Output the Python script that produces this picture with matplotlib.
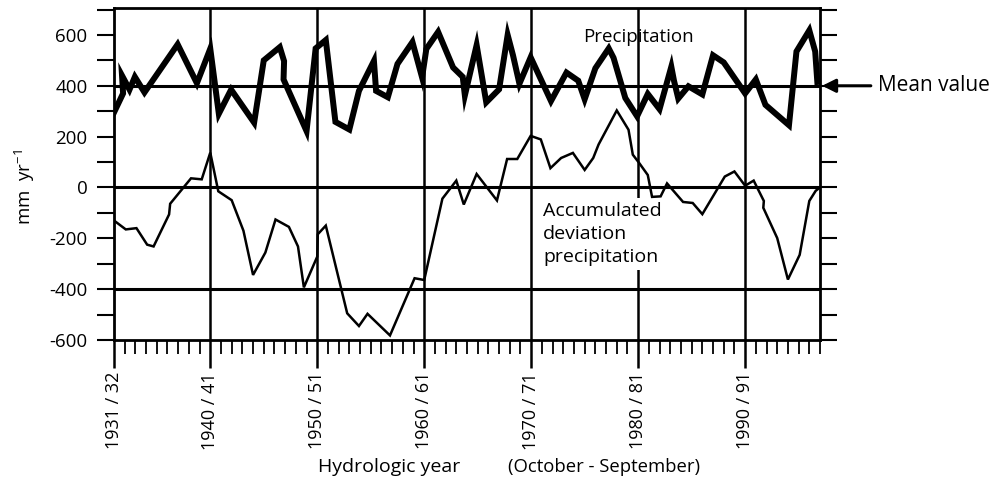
import matplotlib
matplotlib.use("Agg")
import matplotlib.pyplot as plt
from matplotlib.ticker import FixedLocator, MultipleLocator

plt.rcParams['font.family'] = ['Open Sans', 'DejaVu Sans']
plt.rcParams['axes.unicode_minus'] = False
plt.rcParams['mathtext.fontset'] = 'custom'
plt.rcParams['mathtext.rm'] = 'Open Sans'
plt.rcParams['mathtext.default'] = 'regular'

# ---- data ----
precip_year = [1931.0, 1931.85, 1931.75, 1932.45, 1932.95, 1933.85, 1936.95, 1938.75,
               1940.0, 1940.8, 1941.95, 1944.1, 1945.0, 1946.5, 1946.9, 1946.85,
               1949.0, 1949.85, 1950.8, 1951.7, 1953.0, 1953.9, 1955.3, 1955.5,
               1956.6, 1957.5, 1958.9, 1959.8, 1960.2, 1961.3, 1962.7, 1963.6,
               1963.8, 1964.9, 1965.8, 1967.0, 1967.8, 1968.3, 1968.9, 1969.95,
               1971.85, 1973.3, 1974.4, 1975.0, 1976.0, 1977.25, 1977.7, 1978.8,
               1979.9, 1980.9, 1982.0, 1983.1, 1983.35, 1983.75, 1984.7, 1986.0,
               1987.0, 1988.0, 1990.0, 1991.0, 1991.9, 1994.1, 1994.8, 1996.0,
               1996.55, 1996.75]
precip_mm = [295, 370, 440, 385, 435, 374, 563, 410,
             546, 290, 385, 255, 500, 552, 497, 425,
             222, 547, 580, 258, 228, 380, 498, 380,
             355, 486, 572, 433, 545, 612, 472, 435,
             362, 560, 335, 386, 600, 520, 408, 512,
             340, 452, 420, 347, 469, 547, 510, 352,
             280, 368, 308, 475, 420, 350, 398, 366,
             520, 492, 370, 425, 325, 245, 535, 618,
             535, 415]

accdev_year = [1931.0, 1932.1, 1933.1, 1934.1, 1934.7, 1936.15, 1936.25, 1938.2,
               1939.2, 1940.0, 1940.75, 1942.0, 1943.1, 1944.0, 1945.15, 1946.1,
               1947.35, 1948.2, 1948.75, 1950.0, 1950.05, 1950.8, 1952.8, 1953.9,
               1954.7, 1956.8, 1959.1, 1960.0, 1961.7, 1963.0, 1963.7, 1964.9,
               1966.8, 1967.75, 1968.7, 1969.95, 1970.9, 1971.8, 1972.8, 1973.9,
               1975.0, 1975.8, 1976.3, 1978.0, 1979.1, 1979.5, 1980.1, 1980.9,
               1981.3, 1982.1, 1982.7, 1984.2, 1985.1, 1986.0, 1988.1, 1989.0,
               1990.0, 1990.8, 1991.75, 1991.7, 1993.0, 1994.0, 1995.1, 1996.0,
               1996.6, 1997.0]
accdev_mm = [-130, -165, -160, -225, -232, -106, -64, 36,
             32, 137, -15, -50, -170, -344, -256, -126,
             -155, -232, -393, -272, -184, -150, -495, -545,
             -497, -582, -357, -364, -44, 27, -67, 53,
             -51, 112, 112, 203, 189, 76, 116, 136,
             69, 116, 169, 303, 227, 129, 96, 49,
             -37, -35, 16, -57, -61, -105, 43, 63,
             7, 27, -53, -80, -199, -362, -265, -53,
             -13, 0]

decade_ticks = [1931, 1940, 1950, 1960, 1970, 1980, 1990]
decade_labels = ["1931 / 32", "1940 / 41", "1950 / 51", "1960 / 61",
                 "1970 / 71", "1980 / 81", "1990 / 91"]
ytick_values = [-600, -400, -200, 0, 200, 400, 600]
ytick_labels = ["-600", "-400", "-200", "0", "200", "400", "600"]
grid_values = [-400, 0, 400]
mean_value = 400

# ---- figure ----
W, H = 1008, 493
fig = plt.figure(figsize=(W / 100, H / 100), dpi=100)
ax = fig.add_axes([114 / W, 1 - 340 / H, (820 - 114) / W, (340 - 8) / H])
ax.set_xlim(1931, 1997)
ax.set_ylim(-600, 706)

for v in grid_values:
    ax.axhline(v, color='black', lw=2.2, zorder=1)
for d in decade_ticks[1:]:
    ax.axvline(d, color='black', lw=1.8, zorder=1)

ax.plot(accdev_year, accdev_mm, color='black', lw=1.8, zorder=3,
        solid_joinstyle='miter')
ax.plot(precip_year, precip_mm, color='black', lw=4.3, zorder=4,
        solid_joinstyle='miter')

for s in ax.spines.values():
    s.set_linewidth(2)

ax.xaxis.set_major_locator(FixedLocator(decade_ticks))
ax.set_xticklabels(decade_labels, rotation=90, fontsize=13)
ax.xaxis.set_minor_locator(MultipleLocator(1))
ax.tick_params(axis='x', which='major', direction='out', length=20, width=1.8, pad=3)
ax.tick_params(axis='x', which='minor', direction='out', length=10, width=1.3)

ax.yaxis.set_major_locator(FixedLocator(ytick_values))
ax.set_yticklabels(ytick_labels, fontsize=13.5)
ax.yaxis.set_minor_locator(MultipleLocator(100))
ax.tick_params(axis='y', which='both', left=True, right=True, direction='out',
               length=12, width=1.5, pad=7)

ax.text(1980, 590, "Precipitation", ha='center', va='center', fontsize=13.5, zorder=5)
ax.text(1971.1, -58, "Accumulated\ndeviation\nprecipitation", ha='left', va='top',
        fontsize=14, linespacing=1.36, zorder=2,
        bbox=dict(facecolor='white', edgecolor='none', pad=3))

ytr = ax.get_yaxis_transform()
ax.annotate('', xy=(1.003, mean_value), xycoords=ytr,
            xytext=(1.072, mean_value), textcoords=ytr,
            arrowprops=dict(arrowstyle='-|>', lw=2.2, color='black',
                            mutation_scale=20, shrinkA=0, shrinkB=0),
            annotation_clip=False)
ax.text(1.082, mean_value, "Mean value", transform=ytr, ha='left', va='center',
        fontsize=15, clip_on=False)

fig.text(25 / W, 1 - 187 / H, "mm  yr$^{-1}$", rotation=90, ha='center',
         va='center', fontsize=13.5)
fig.text(318 / W, 1 - 467 / H, "Hydrologic year", ha='left', va='center', fontsize=14)
fig.text(508 / W, 1 - 467 / H, "(October - September)", ha='left', va='center',
         fontsize=13.3)

fig.savefig("out.png", dpi=100)
